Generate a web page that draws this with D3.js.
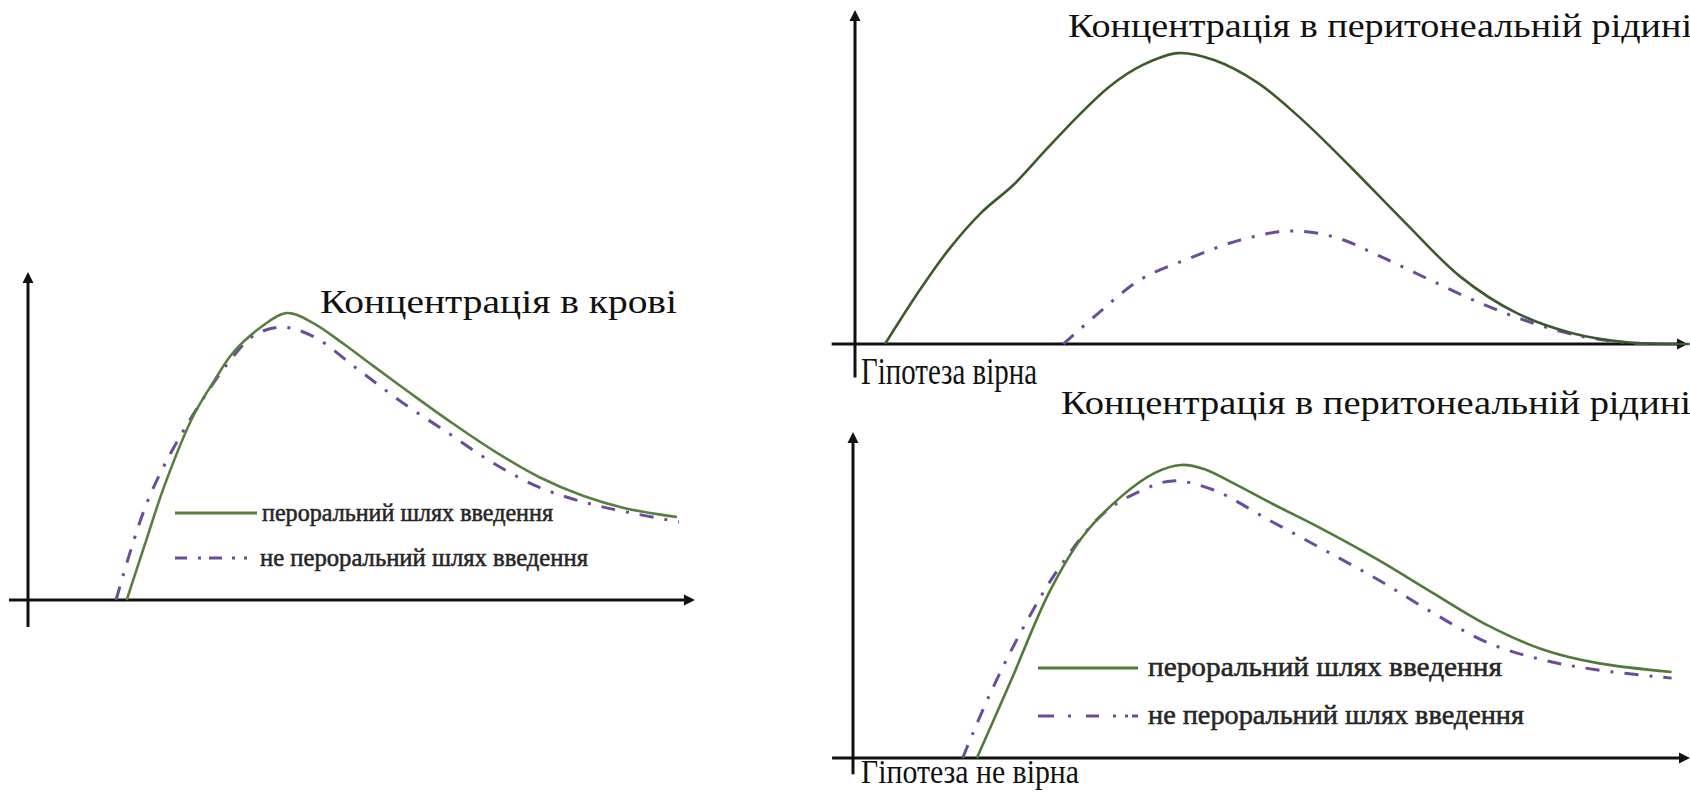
<!DOCTYPE html>
<html>
<head>
<meta charset="utf-8">
<script src="https://cdn.jsdelivr.net/npm/d3@7"></script>
<style>
  html, body { margin: 0; padding: 0; background: #ffffff; overflow: hidden; }
  svg { display: block; }
</style>
</head>
<body>
<script>
// ---------------- DATA (time in arbitrary units 0..100, concentration 0..100) ----------------
// Panel 1: concentration in blood
const bloodOralT    = [14.8, 17.5, 20.5, 24.7, 28.0, 30.7, 34.8, 38.8, 42.7, 47.5, 51.6, 57.3, 63.7, 70.2, 76.6, 83.2, 89.5, 97.3];
const bloodOralC    = [0, 16.8, 35.1, 55.8, 67.1, 75.3, 83.0, 87.5, 84.5, 77.8, 71.6, 63.1, 53.8, 45.0, 37.5, 31.8, 28.0, 25.3];
const bloodParT     = [13.2, 18.0, 24.0, 30.7, 34.0, 38.1, 42.9, 49.6, 56.2, 63.0, 69.7, 76.5, 83.2, 89.8, 97.6];
const bloodParC     = [0, 30.5, 54.0, 74.1, 80.8, 83.2, 80.2, 70.1, 60.1, 50.9, 41.8, 34.5, 29.9, 26.8, 23.8];

// Panel 2: peritoneal fluid, hypothesis true
const periTrueOralT = [3.6, 7.3, 11.2, 15.1, 19.0, 22.8, 26.8, 30.6, 34.5, 38.8, 43.1, 48.4, 53.7, 59.5, 66.1, 72.7, 79.4, 86.0, 92.4, 100.2];
const periTrueOralC = [0, 14.4, 28.1, 39.2, 47.6, 57.8, 68.3, 77.2, 83.5, 87.1, 85.0, 78.1, 67.1, 53.0, 36.2, 20.1, 9.3, 3.3, 0.6, 0];
const periTrueParT  = [25.0, 29.4, 34.2, 40.2, 46.2, 52.2, 57.6, 63.0, 69.0, 75.0, 81.0, 87.0, 93.0, 96.6];
const periTrueParC  = [0, 9.6, 19.2, 25.7, 31.1, 33.8, 32.0, 26.3, 19.2, 12.3, 6.6, 2.4, 0.3, 0];

// Panel 3: peritoneal fluid, hypothesis false
const periFalseOralT = [14.8, 18.9, 23.4, 27.4, 32.0, 36.0, 39.2, 42.0, 45.6, 50.4, 56.3, 62.8, 69.3, 75.9, 82.4, 89.0, 97.8];
const periFalseOralC = [0, 23.9, 50.6, 67.8, 80.1, 87.4, 89.9, 88.6, 84.1, 77.6, 69.9, 60.7, 50.6, 40.6, 33.3, 29.1, 26.4];
const periFalseParT  = [13.1, 16.2, 20.2, 24.7, 30.0, 34.6, 38.2, 43.1, 49.7, 56.3, 62.8, 69.3, 75.9, 82.4, 89.0, 97.8];
const periFalseParC  = [0, 18.7, 39.3, 58.6, 75.2, 82.2, 85.0, 82.2, 73.0, 63.8, 54.6, 44.5, 35.3, 30.1, 27.0, 24.5];

// Texts
const titleBlood = "Концентрація в крові";
const titlePeri  = "Концентрація в перитонеальній рідині";
const hypTrue    = "Гіпотеза вірна";
const hypFalse   = "Гіпотеза не вірна";
const legendOral = "пероральний шлях введення";
const legendPar  = "не пероральний шлях введення";

// ---------------- DRAWING ----------------
const W = 1690, H = 792;
const svg = d3.select("body").append("svg").attr("width", W).attr("height", H);
svg.append("rect").attr("width", W).attr("height", H).attr("fill", "#ffffff");

const PURPLE = "#6a4c9c";
const FONT = "'Liberation Serif', 'Times New Roman', serif";

function zip(t, c) { return t.map((v, i) => ({ t: v, c: c[i] })); }

function drawPanel(cfg) {
  const g = svg.append("g");
  const x = d3.scaleLinear().domain([0, 100]).range(cfg.xRange);
  const y = d3.scaleLinear().domain([0, 100]).range(cfg.yRange);

  // axes
  const axCol = "#111";
  g.append("line")
    .attr("x1", x(cfg.xAxisFrom)).attr("x2", x(100) - 6)
    .attr("y1", y(0)).attr("y2", y(0))
    .attr("stroke", axCol).attr("stroke-width", 3);
  g.append("line")
    .attr("x1", x(0)).attr("x2", x(0))
    .attr("y1", y(cfg.yAxisFrom)).attr("y2", y(100) + 6)
    .attr("stroke", axCol).attr("stroke-width", 3);
  // arrow heads
  const tx = x(100), ty = y(0);
  g.append("path")
    .attr("d", `M${tx},${ty} L${tx - 11},${ty - 5.5} L${tx - 11},${ty + 5.5} Z`)
    .attr("fill", axCol);
  const ux = x(0), uy = y(100);
  g.append("path")
    .attr("d", `M${ux},${uy} L${ux - 5.5},${uy + 11} L${ux + 5.5},${uy + 11} Z`)
    .attr("fill", axCol);

  const line = d3.line()
    .x(d => x(d.t)).y(d => y(d.c))
    .curve(d3.curveCatmullRom.alpha(0.5));

  // non-oral (dash-dot, purple)
  g.append("path")
    .datum(zip(cfg.parT, cfg.parC))
    .attr("d", line)
    .attr("fill", "none")
    .attr("stroke", PURPLE)
    .attr("stroke-width", 3)
    .attr("stroke-dasharray", "14 11 3 11");
  // oral (solid, green)
  g.append("path")
    .datum(zip(cfg.oralT, cfg.oralC))
    .attr("d", line)
    .attr("fill", "none")
    .attr("stroke", cfg.green)
    .attr("stroke-width", 2.6);

  // title
  g.append("text")
    .attr("x", cfg.title.x).attr("y", cfg.title.y)
    .attr("font-family", FONT).attr("font-size", cfg.title.size)
    .attr("fill", "#111")
    .attr("textLength", cfg.title.len).attr("lengthAdjust", "spacingAndGlyphs")
    .text(cfg.title.text);

  if (cfg.hyp) {
    g.append("text")
      .attr("x", cfg.hyp.x).attr("y", cfg.hyp.y)
      .attr("font-family", FONT).attr("font-size", cfg.hyp.size)
      .attr("fill", "#111")
      .attr("textLength", cfg.hyp.len).attr("lengthAdjust", "spacingAndGlyphs")
      .text(cfg.hyp.text);
  }

  if (cfg.legend) {
    const L = cfg.legend;
    g.append("line")
      .attr("x1", L.x1).attr("x2", L.x2).attr("y1", L.y1).attr("y2", L.y1)
      .attr("stroke", cfg.green).attr("stroke-width", 3);
    g.append("text")
      .attr("x", L.tx).attr("y", L.y1 + L.size * 0.3)
      .attr("font-family", FONT).attr("font-size", L.size)
      .attr("fill", "#262626").attr("stroke", "#262626").attr("stroke-width", 0.55)
      .attr("textLength", L.len1).attr("lengthAdjust", "spacingAndGlyphs")
      .text(legendOral);
    g.append("line")
      .attr("x1", L.x1).attr("x2", L.x2).attr("y1", L.y2).attr("y2", L.y2)
      .attr("stroke", PURPLE).attr("stroke-width", 3.2)
      .attr("stroke-dasharray", L.dash);
    g.append("text")
      .attr("x", L.tx2).attr("y", L.y2 + L.size * 0.3)
      .attr("font-family", FONT).attr("font-size", L.size)
      .attr("fill", "#262626").attr("stroke", "#262626").attr("stroke-width", 0.55)
      .attr("textLength", L.len2).attr("lengthAdjust", "spacingAndGlyphs")
      .text(legendPar);
  }
}

drawPanel({
  xRange: [28, 695], yRange: [600, 272],
  xAxisFrom: -2.85, yAxisFrom: -8.2,
  green: "#567f40",
  oralT: bloodOralT, oralC: bloodOralC, parT: bloodParT, parC: bloodParC,
  title: { text: titleBlood, x: 320, y: 313, size: 34, len: 357 },
  legend: { x1: 175, x2: 257, y1: 513, y2: 558, tx: 262, tx2: 260, size: 25,
            len1: 291, len2: 328, dash: "12 11 3 8 13 10 3 9 3 30" }
});

drawPanel({
  xRange: [855, 1688], yRange: [344, 10],
  xAxisFrom: -2.8, yAxisFrom: -10,
  green: "#3c5a2d",
  oralT: periTrueOralT, oralC: periTrueOralC, parT: periTrueParT, parC: periTrueParC,
  title: { text: titlePeri, x: 1068, y: 37, size: 33, len: 624 },
  hyp: { text: hypTrue, x: 861, y: 384, size: 37, len: 176 }
});

drawPanel({
  xRange: [853, 1690], yRange: [758, 432],
  xAxisFrom: -2.5, yAxisFrom: -5,
  green: "#4f7a38",
  oralT: periFalseOralT, oralC: periFalseOralC, parT: periFalseParT, parC: periFalseParC,
  title: { text: titlePeri, x: 1061, y: 414, size: 33, len: 630 },
  hyp: { text: hypFalse, x: 861, y: 783, size: 33, len: 218 },
  legend: { x1: 1038, x2: 1138, y1: 668, y2: 716, tx: 1148, tx2: 1148, size: 28,
            len1: 354, len2: 376, dash: "16 14 3 15 13 14 3 9 3 4 6 30" }
});
</script>
</body>
</html>
